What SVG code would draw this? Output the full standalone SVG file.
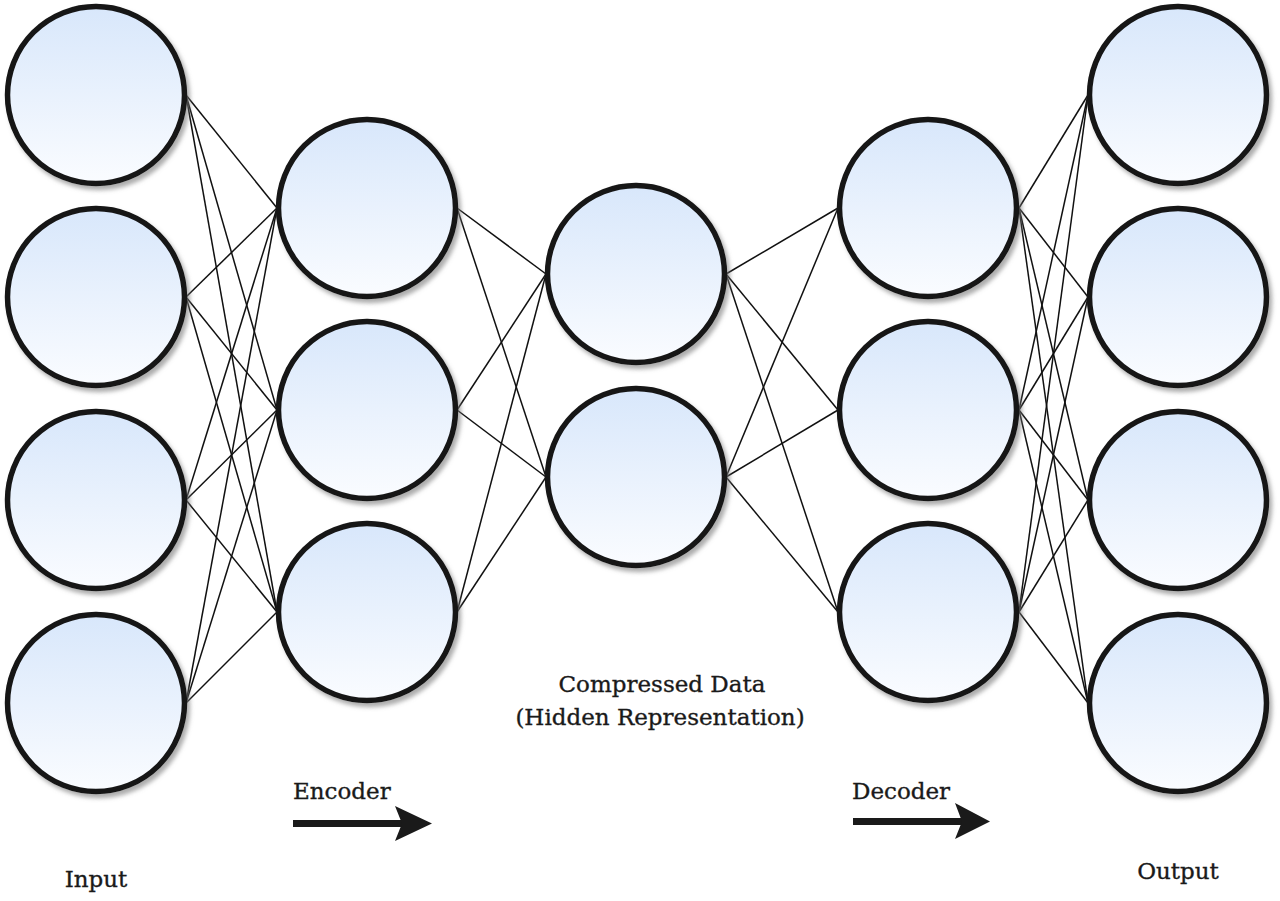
<svg xmlns="http://www.w3.org/2000/svg" width="1280" height="901" viewBox="0 0 1280 901">
<defs>
<linearGradient id="fillg" x1="0" y1="0" x2="0" y2="1">
<stop offset="0" stop-color="#d8e7fb"/>
<stop offset="1" stop-color="#fafcff"/>
</linearGradient>
<filter id="sh" x="-20%" y="-20%" width="150%" height="150%">
<feDropShadow dx="3" dy="4" stdDeviation="2" flood-color="#777" flood-opacity="0.6"/>
</filter>
</defs>
<style>
.n{fill:url(#fillg);stroke:#161616;stroke-width:5.5;filter:url(#sh)}
.c line{stroke:#111;stroke-width:1.5}
.t{font-family:"DejaVu Serif","Liberation Serif",serif;font-size:23px;fill:#1a1a1a;stroke:#1a1a1a;stroke-width:0.35}
.arr{fill:#1a1a1a}
</style>
<rect width="1280" height="901" fill="#fff"/>
<g id="connectors" class="c">
<line x1="186" y1="95" x2="277" y2="208"/><line x1="186" y1="95" x2="277" y2="410"/><line x1="186" y1="95" x2="277" y2="612"/>
<line x1="186" y1="297" x2="277" y2="208"/><line x1="186" y1="297" x2="277" y2="410"/><line x1="186" y1="297" x2="277" y2="612"/>
<line x1="186" y1="500" x2="277" y2="208"/><line x1="186" y1="500" x2="277" y2="410"/><line x1="186" y1="500" x2="277" y2="612"/>
<line x1="186" y1="703" x2="277" y2="208"/><line x1="186" y1="703" x2="277" y2="410"/><line x1="186" y1="703" x2="277" y2="612"/>
<line x1="457" y1="208" x2="546" y2="274"/><line x1="457" y1="208" x2="546" y2="477"/>
<line x1="457" y1="410" x2="546" y2="274"/><line x1="457" y1="410" x2="546" y2="477"/>
<line x1="457" y1="612" x2="546" y2="274"/><line x1="457" y1="612" x2="546" y2="477"/>
<line x1="726" y1="274" x2="838" y2="208"/><line x1="726" y1="274" x2="838" y2="410"/><line x1="726" y1="274" x2="838" y2="612"/>
<line x1="726" y1="477" x2="838" y2="208"/><line x1="726" y1="477" x2="838" y2="410"/><line x1="726" y1="477" x2="838" y2="612"/>
<line x1="1019" y1="208" x2="1088" y2="95"/><line x1="1019" y1="208" x2="1088" y2="297"/><line x1="1019" y1="208" x2="1088" y2="500"/><line x1="1019" y1="208" x2="1088" y2="703"/>
<line x1="1019" y1="410" x2="1088" y2="95"/><line x1="1019" y1="410" x2="1088" y2="297"/><line x1="1019" y1="410" x2="1088" y2="500"/><line x1="1019" y1="410" x2="1088" y2="703"/>
<line x1="1019" y1="612" x2="1088" y2="95"/><line x1="1019" y1="612" x2="1088" y2="297"/><line x1="1019" y1="612" x2="1088" y2="500"/><line x1="1019" y1="612" x2="1088" y2="703"/>
</g>
<g id="input-1"><circle class="n" cx="96" cy="95" r="88.5"/></g>
<g id="input-2"><circle class="n" cx="96" cy="297" r="88.5"/></g>
<g id="input-3"><circle class="n" cx="96" cy="500" r="88.5"/></g>
<g id="input-4"><circle class="n" cx="96" cy="703" r="88.5"/></g>
<g id="enc-1"><circle class="n" cx="367" cy="208" r="88.5"/></g>
<g id="enc-2"><circle class="n" cx="367" cy="410" r="88.5"/></g>
<g id="enc-3"><circle class="n" cx="367" cy="612" r="88.5"/></g>
<g id="mid-1"><circle class="n" cx="636" cy="274" r="88.5"/></g>
<g id="mid-2"><circle class="n" cx="636" cy="477" r="88.5"/></g>
<g id="dec-1"><circle class="n" cx="928" cy="208" r="88.5"/></g>
<g id="dec-2"><circle class="n" cx="928" cy="410" r="88.5"/></g>
<g id="dec-3"><circle class="n" cx="928" cy="612" r="88.5"/></g>
<g id="out-1"><circle class="n" cx="1178" cy="95" r="88.5"/></g>
<g id="out-2"><circle class="n" cx="1178" cy="297" r="88.5"/></g>
<g id="out-3"><circle class="n" cx="1178" cy="500" r="88.5"/></g>
<g id="out-4"><circle class="n" cx="1178" cy="703" r="88.5"/></g>
<g id="labels">
<text class="t" x="662" y="692" text-anchor="middle">Compressed Data</text>
<text class="t" x="660" y="725" text-anchor="middle">(Hidden Representation)</text>
<text class="t" x="293" y="799">Encoder</text>
<text class="t" x="852" y="799">Decoder</text>
<text class="t" x="96" y="887" text-anchor="middle">Input</text>
<text class="t" x="1178" y="879" text-anchor="middle">Output</text>
</g>
<g id="encoder-arrow">
<rect class="arr" x="293" y="820" width="110" height="7"/>
<polygon class="arr" points="395,806 432,823.5 395,841 402,823.5"/>
</g>
<g id="decoder-arrow">
<rect class="arr" x="853" y="818" width="110" height="7"/>
<polygon class="arr" points="955,803 990,821.5 955,839 962,821.5"/>
</g>
</svg>
